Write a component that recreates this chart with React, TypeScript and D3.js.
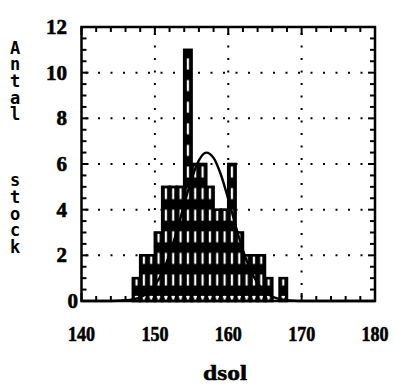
import React from "react";
import * as d3 from "d3";

const W = 395;
const H = 386;

// Histogram of dsol: one-unit bins, left edge of each bin and its count
const binStarts = [147, 148, 149, 150, 151, 152, 153, 154, 155, 156, 157, 158, 159, 160, 161, 162, 163, 164, 165, 166, 167];
const counts = [1, 2, 2, 3, 5, 5, 5, 11, 6, 6, 5, 4, 4, 6, 3, 2, 2, 2, 1, 0, 1];

// Fitted normal curve, sampled points (dsol, height)
const curveX = [140, 143, 145, 146, 147, 148, 149, 150, 151, 152, 153, 154, 155, 156, 157, 158, 159, 160, 161, 162, 163, 164, 165, 166, 167, 168, 169, 170, 180];
const curveY = [0, 0, 0.01, 0.03, 0.07, 0.16, 0.35, 0.69, 1.24, 2.04, 3.07, 4.24, 5.34, 6.16, 6.5, 6.27, 5.53, 4.47, 3.3, 2.23, 1.38, 0.78, 0.4, 0.19, 0.08, 0.03, 0.01, 0, 0];

const xTicks = [140, 150, 160, 170, 180];
const yTicks = [0, 2, 4, 6, 8, 10, 12];
const xGrid = [150, 160, 170];
const yGrid = [2, 4, 6, 8, 10];

const xLabel = "dsol";
const yLabelWords = ["Antal", "stock"];

const serif = "'Liberation Serif', serif";
const mono = "'DejaVu Sans Mono', monospace";

export default function App() {
  const x = d3.scaleLinear().domain([140, 180]).range([81.5, 375]);
  const y = d3.scaleLinear().domain([0, 12]).range([301, 27]);
  const binW = x(141) - x(140);
  const period = 21.6;
  const slitH = 11;
  const slitW = 2.2;

  const line = d3
    .line<number>()
    .x((_, i) => x(curveX[i]))
    .y((d) => y(d))
    .curve(d3.curveMonotoneX);

  // minor/major ticks on the frame
  const xMinor = d3.range(140, 180.01, 2);
  const yMinor = d3.range(0, 12.01, 0.5);

  const [x0, x1] = x.range();
  const [yb, yt] = y.range();

  // vertical axis title: upright letters stacked in a column
  const step = 16.6;
  const fontSize = 17;
  const wordStart = [37.5, 37.5 + step * 8];

  return (
    <svg
      width={W}
      height={H}
      viewBox={`0 0 ${W} ${H}`}
      style={{ position: "absolute", left: 0, top: 0, background: "#fff" }}
    >
      <defs>
        <pattern
          id="slits"
          patternUnits="userSpaceOnUse"
          x={x(140)}
          y={280 - period / 2}
          width={binW}
          height={period}
        >
          <rect width={binW} height={period} fill="#000" />
          <rect x={binW / 2 - slitW / 2} y={period / 2 - slitH / 2} width={slitW} height={slitH} fill="#fff" />
        </pattern>
      </defs>
      <rect width={W} height={H} fill="#fff" />

      {/* dotted grid */}
      {yGrid.map((v) => (
        <line key={"gy" + v} x1={x0 + 4} x2={x1 - 4} y1={y(v)} y2={y(v)} stroke="#000" strokeWidth={2} strokeDasharray="2 10.5" />
      ))}
      {xGrid.map((v) => (
        <line key={"gx" + v} x1={x(v)} x2={x(v)} y1={yt + 6} y2={yb - 4} stroke="#000" strokeWidth={2} strokeDasharray="2 10.5" />
      ))}

      {/* histogram bars */}
      {binStarts.map((b, i) =>
        counts[i] > 0 ? (
          <g key={"b" + b}>
            <rect
              x={x(b)}
              y={y(counts[i])}
              width={binW}
              height={y(0) - y(counts[i])}
              fill="url(#slits)"
              stroke="#000"
              strokeWidth={2.6}
            />
            <rect x={x(b) + 2} y={y(0) - 5} width={binW - 4} height={1.6} fill="#fff" />
          </g>
        ) : null
      )}

      {/* fitted curve */}
      <path d={line(curveY) || ""} fill="none" stroke="#000" strokeWidth={2.4} />

      {/* frame */}
      <rect x={x0} y={yt} width={x1 - x0} height={yb - yt} fill="none" stroke="#000" strokeWidth={2.5} />
      {xMinor.map((v) => {
        const len = v % 10 === 0 ? 8 : 5;
        return (
          <g key={"tx" + v}>
            <line x1={x(v)} x2={x(v)} y1={yt} y2={yt + len} stroke="#000" strokeWidth={2} />
            <line x1={x(v)} x2={x(v)} y1={yb} y2={yb - len} stroke="#000" strokeWidth={2} />
          </g>
        );
      })}
      {yMinor.map((v) => {
        const len = v % 2 === 0 ? 7 : 5;
        return (
          <g key={"ty" + v}>
            <line x1={x0} x2={x0 + len} y1={y(v)} y2={y(v)} stroke="#000" strokeWidth={2} />
            <line x1={x1} x2={x1 - len} y1={y(v)} y2={y(v)} stroke="#000" strokeWidth={2} />
          </g>
        );
      })}

      {/* tick labels */}
      {xTicks.map((v) => (
        <text
          key={"lx" + v}
          x={x(v)}
          y={341}
          textAnchor="middle"
          fontFamily={serif}
          fontWeight="bold"
          fontSize={21}
          textLength={27}
          lengthAdjust="spacingAndGlyphs"
          fill="#000"
          stroke="#000"
          strokeWidth={0.6}
        >
          {v}
        </text>
      ))}
      {yTicks.map((v) => (
        <text
          key={"ly" + v}
          x={v === 0 ? 78 : 67}
          y={y(v) + 7}
          textAnchor="end"
          fontFamily={serif}
          fontWeight="bold"
          fontSize={21}
          fill="#000"
          stroke="#000"
          strokeWidth={0.6}
        >
          {v}
        </text>
      ))}

      {/* axis titles */}
      <text
        x={225}
        y={380}
        textAnchor="middle"
        fontFamily={serif}
        fontWeight="bold"
        fontSize={21}
        textLength={44}
        lengthAdjust="spacingAndGlyphs"
        fill="#000"
        stroke="#000"
        strokeWidth={0.5}
      >
        {xLabel}
      </text>
      {yLabelWords.map((w, k) => (
        <text
          key={"yw" + k}
          x={15}
          y={wordStart[k]}
          fontFamily={mono}
          fontWeight="bold"
          fontSize={fontSize}
          fill="#000"
          style={{ writingMode: "vertical-rl", textOrientation: "upright", letterSpacing: "-3.3px" } as React.CSSProperties}
        >
          {w}
        </text>
      ))}
    </svg>
  );
}
